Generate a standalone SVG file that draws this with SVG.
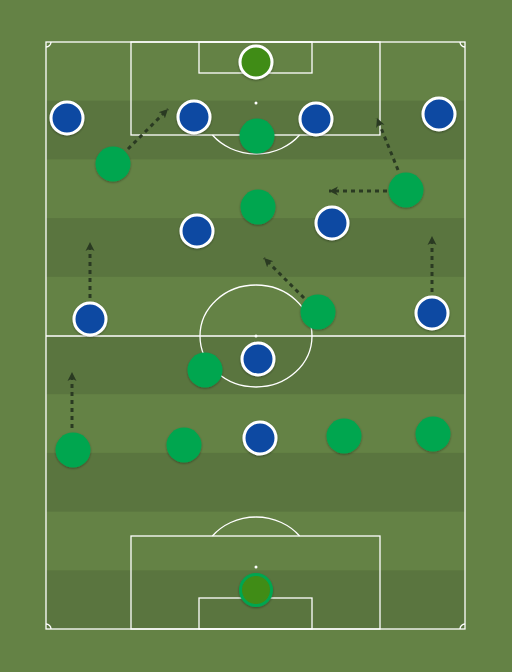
<svg xmlns="http://www.w3.org/2000/svg" width="512" height="672" viewBox="0 0 512 672">
<defs>
<style>
.line{fill:none;stroke:#ffffff;stroke-width:1.3}
.dark{fill:#5a753f}
.blue{fill:#0b4aa2;stroke:#ffffff;stroke-width:3;filter:url(#sh)}
.green{fill:#00a64f;filter:url(#sh)}
.arrow{fill:none;stroke:#2a3a22;stroke-width:3;stroke-dasharray:4 4;marker-end:url(#ah)}
</style>
<filter id="sh" x="-30%" y="-30%" width="160%" height="160%">
<feDropShadow dx="0" dy="1" stdDeviation="0.8" flood-color="#000" flood-opacity="0.35"/>
</filter>
<marker id="ah" markerUnits="userSpaceOnUse" markerWidth="10" markerHeight="10" refX="9" refY="5" orient="auto">
<path d="M0,0.5 L9,5 L0,9.5 L2.5,5 z" fill="#2a3a22"/>
</marker>
</defs>
<rect x="0" y="0" width="512" height="672" fill="#648245"/>
<g id="stripes">
<rect class="dark" x="46" y="100.7" width="419" height="58.7"/>
<rect class="dark" x="46" y="218.1" width="419" height="58.7"/>
<rect class="dark" x="46" y="335.5" width="419" height="58.7"/>
<rect class="dark" x="46" y="452.9" width="419" height="58.7"/>
<rect class="dark" x="46" y="570.3" width="419" height="58.7"/>
</g>
<g id="pitch">
<rect class="line" x="46" y="42" width="419" height="587"/>
<line class="line" x1="46" y1="336" x2="465" y2="336"/>
<ellipse class="line" cx="256" cy="336" rx="56" ry="51"/>
<circle cx="256" cy="336" r="1.5" fill="#fff"/>
<rect class="line" x="131" y="42" width="249" height="93"/>
<rect class="line" x="199" y="42" width="113" height="31"/>
<circle cx="256" cy="103" r="1.5" fill="#fff"/>
<path class="line" d="M212.4,135 A56,51 0 0 0 299.6,135"/>
<rect class="line" x="131" y="536" width="249" height="93"/>
<rect class="line" x="199" y="598" width="113" height="31"/>
<circle cx="256" cy="567" r="1.5" fill="#fff"/>
<path class="line" d="M212.4,536 A56,51 0 0 1 299.6,536"/>
<path class="line" d="M51,42 A5,5 0 0 1 46,47"/>
<path class="line" d="M460,42 A5,5 0 0 0 465,47"/>
<path class="line" d="M46,624 A5,5 0 0 1 51,629"/>
<path class="line" d="M465,624 A5,5 0 0 0 460,629"/>
</g>
<g id="connectors">
<line class="arrow" x1="128" y1="149" x2="168" y2="109"/>
<line class="arrow" x1="398" y1="170" x2="377" y2="118"/>
<line class="arrow" x1="387" y1="191" x2="329" y2="191"/>
<line class="arrow" x1="304" y1="298" x2="264" y2="258"/>
<line class="arrow" x1="90" y1="298" x2="90" y2="242"/>
<line class="arrow" x1="432" y1="292" x2="432" y2="236"/>
<line class="arrow" x1="72" y1="428" x2="72" y2="372"/>
</g>
<g id="team-blue">
<g id="b-gk"><circle cx="256" cy="62" r="16" fill="#3f8c16" stroke="#fff" stroke-width="3" filter="url(#sh)"/></g>
<g id="b1"><circle class="blue" cx="67" cy="118" r="16"/></g>
<g id="b2"><circle class="blue" cx="194" cy="117" r="16"/></g>
<g id="b3"><circle class="blue" cx="316" cy="119" r="16"/></g>
<g id="b4"><circle class="blue" cx="439" cy="114" r="16"/></g>
<g id="b5"><circle class="blue" cx="197" cy="231" r="16"/></g>
<g id="b6"><circle class="blue" cx="332" cy="223" r="16"/></g>
<g id="b7"><circle class="blue" cx="90" cy="319" r="16"/></g>
<g id="b8"><circle class="blue" cx="432" cy="313" r="16"/></g>
<g id="b9"><circle class="blue" cx="258" cy="359" r="16"/></g>
<g id="b10"><circle class="blue" cx="260" cy="438" r="16"/></g>
</g>
<g id="team-green">
<g id="g-gk"><circle cx="256" cy="590" r="15.5" fill="#3f8c16" stroke="#00a64f" stroke-width="3" filter="url(#sh)"/></g>
<g id="g1"><circle class="green" cx="113" cy="164" r="17.5"/></g>
<g id="g2"><circle class="green" cx="257" cy="136" r="17.5"/></g>
<g id="g3"><circle class="green" cx="258" cy="207" r="17.5"/></g>
<g id="g4"><circle class="green" cx="406" cy="190" r="17.5"/></g>
<g id="g5"><circle class="green" cx="318" cy="312" r="17.5"/></g>
<g id="g6"><circle class="green" cx="205" cy="370" r="17.5"/></g>
<g id="g7"><circle class="green" cx="73" cy="450" r="17.5"/></g>
<g id="g8"><circle class="green" cx="184" cy="445" r="17.5"/></g>
<g id="g9"><circle class="green" cx="344" cy="436" r="17.5"/></g>
<g id="g10"><circle class="green" cx="433" cy="434" r="17.5"/></g>
</g>
</svg>
